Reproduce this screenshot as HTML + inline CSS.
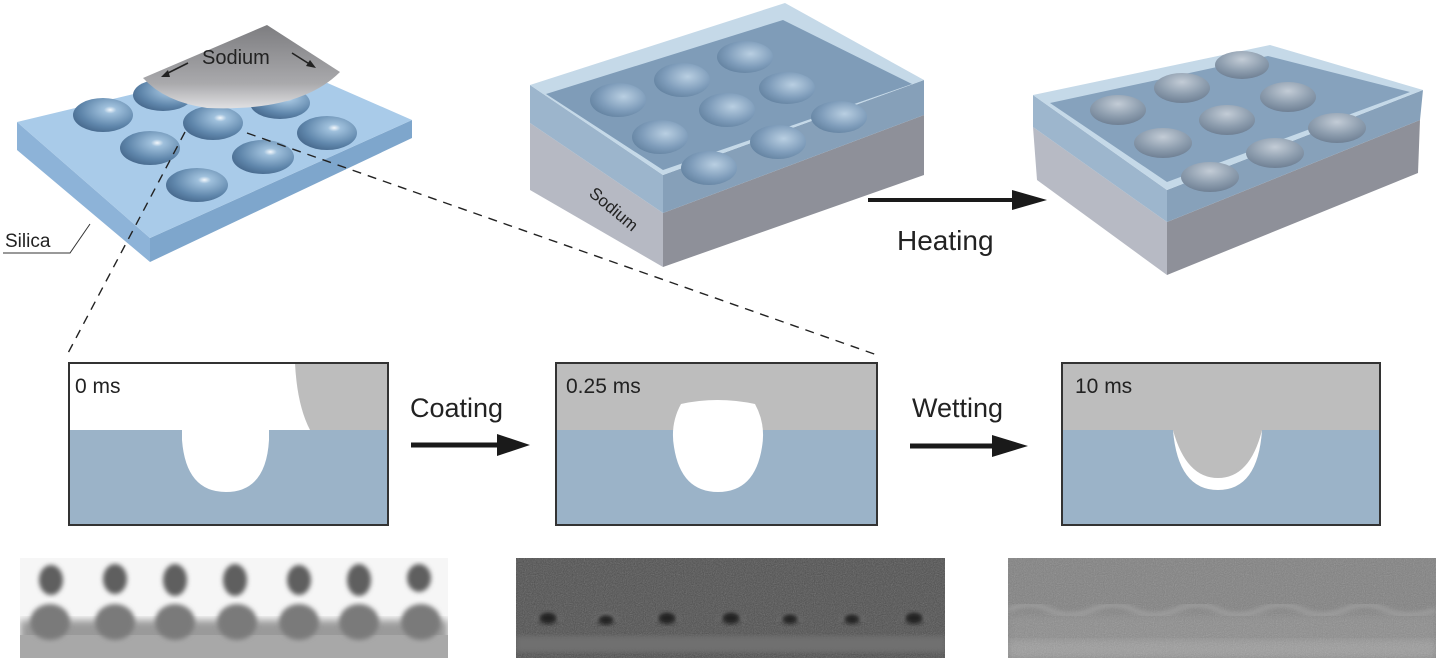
<!DOCTYPE html>
<html><head><meta charset="utf-8"><style>
html,body{margin:0;padding:0;background:#fff;}
svg{display:block;}
text{font-family:"Liberation Sans",sans-serif;fill:#222;}
</style></head><body>
<svg width="1444" height="664" viewBox="0 0 1444 664" xmlns="http://www.w3.org/2000/svg">
<defs>
<radialGradient id="well" cx="0.62" cy="0.35" r="0.7">
<stop offset="0" stop-color="#f4f8fc"/><stop offset="0.15" stop-color="#9fc0dc"/><stop offset="0.7" stop-color="#5f86ab"/><stop offset="1" stop-color="#47698d"/></radialGradient>
<radialGradient id="well2" cx="0.6" cy="0.4" r="0.7">
<stop offset="0" stop-color="#b9cfe2"/><stop offset="0.6" stop-color="#7e9cba"/><stop offset="1" stop-color="#5f7e9c"/></radialGradient>
<radialGradient id="well3" cx="0.5" cy="0.3" r="0.7">
<stop offset="0" stop-color="#c3ccd6"/><stop offset="0.6" stop-color="#8d9dae"/><stop offset="1" stop-color="#6f8094"/></radialGradient>
<linearGradient id="na" x1="0" y1="0" x2="0" y2="1">
<stop offset="0" stop-color="#7d7d80"/><stop offset="0.7" stop-color="#a9a9ac"/><stop offset="1" stop-color="#e0e0e2"/></linearGradient>
<filter id="noise"><feTurbulence type="fractalNoise" baseFrequency="0.9" numOctaves="2" seed="3"/><feColorMatrix type="saturate" values="0"/><feComponentTransfer><feFuncA type="linear" slope="0.35"/></feComponentTransfer><feComposite in2="SourceGraphic" operator="in"/></filter>
<filter id="blur2"><feGaussianBlur stdDeviation="2.5"/></filter>
<filter id="blur4"><feGaussianBlur stdDeviation="4"/></filter>
<clipPath id="c1"><rect x="20" y="558" width="428" height="100"/></clipPath>
<clipPath id="c2"><rect x="516" y="558" width="429" height="100"/></clipPath>
<clipPath id="c3"><rect x="1008" y="558" width="428" height="100"/></clipPath>
</defs>

<!-- Box 1 silica slab -->
<polygon points="17,122 150,238 150,262 17,150" fill="#8db3d8"/>
<polygon points="150,238 412,120 412,138 150,262" fill="#7ea6cc"/>
<polygon points="17,122 275,60 412,120 150,238" fill="#a9cbe9"/>
<g>
<ellipse cx="103" cy="115" rx="30" ry="17" fill="url(#well)"/>
<ellipse cx="163" cy="95" rx="30" ry="16" fill="url(#well)"/>
<ellipse cx="150" cy="148" rx="30" ry="17" fill="url(#well)"/>
<ellipse cx="213" cy="123" rx="30" ry="17" fill="url(#well)"/>
<ellipse cx="280" cy="103" rx="30" ry="16" fill="url(#well)"/>
<ellipse cx="197" cy="185" rx="31" ry="17" fill="url(#well)"/>
<ellipse cx="263" cy="157" rx="31" ry="17" fill="url(#well)"/>
<ellipse cx="327" cy="133" rx="30" ry="17" fill="url(#well)"/>
</g>
<path d="M143,78 L267,25 L340,72 Q300,112 207,108 Q165,102 143,78 Z" fill="url(#na)"/>
<text x="202" y="64" font-size="20">Sodium</text>
<line x1="188" y1="63" x2="166" y2="74" stroke="#222" stroke-width="1.6"/>
<polygon points="161,77 168,70 170,77" fill="#222"/>
<line x1="292" y1="53" x2="311" y2="65" stroke="#222" stroke-width="1.6"/>
<polygon points="316,68 306,66 310,60" fill="#222"/>
<text x="5" y="247" font-size="19">Silica</text>
<polyline points="3,253 70,253 90,224" fill="none" stroke="#333" stroke-width="1"/>

<!-- dashed lines -->
<line x1="185" y1="132" x2="67" y2="355" stroke="#222" stroke-width="1.4" stroke-dasharray="9,7"/>
<line x1="247" y1="133" x2="877" y2="355" stroke="#222" stroke-width="1.4" stroke-dasharray="9,7"/>

<!-- Box 2 -->
<polygon points="530,123 663,213 663,267 530,190" fill="#b6b9c3"/>
<polygon points="663,213 924,115 924,175 663,267" fill="#8e9099"/>
<polygon points="530,85 663,175 663,213 530,123" fill="#9cb5cc"/>
<polygon points="663,175 924,80 924,115 663,213" fill="#86a0b9"/>
<polygon points="530,85 785,3 924,80 663,175" fill="#c5d9e8"/>
<polygon points="546,94 783,20 912,84 663,170" fill="#7f9cb8"/>
<g>
<ellipse cx="618" cy="100" rx="28" ry="17" fill="url(#well2)"/>
<ellipse cx="682" cy="80" rx="28" ry="17" fill="url(#well2)"/>
<ellipse cx="745" cy="57" rx="28" ry="16" fill="url(#well2)"/>
<ellipse cx="660" cy="137" rx="28" ry="17" fill="url(#well2)"/>
<ellipse cx="727" cy="110" rx="28" ry="17" fill="url(#well2)"/>
<ellipse cx="787" cy="88" rx="28" ry="16" fill="url(#well2)"/>
<ellipse cx="709" cy="168" rx="28" ry="17" fill="url(#well2)"/>
<ellipse cx="778" cy="142" rx="28" ry="17" fill="url(#well2)"/>
<ellipse cx="839" cy="117" rx="28" ry="16" fill="url(#well2)"/>
</g>
<text x="0" y="0" font-size="17" transform="translate(588,195) rotate(40)">Sodium</text>

<!-- Heating arrow -->
<line x1="868" y1="200" x2="1015" y2="200" stroke="#1a1a1a" stroke-width="4"/>
<polygon points="1012,190 1047,200 1012,210" fill="#1a1a1a"/>
<text x="897" y="250" font-size="28">Heating</text>

<!-- Box 3 -->
<polygon points="1033,127 1167,222 1167,275 1037,180" fill="#b7bac4"/>
<polygon points="1167,222 1420,120 1418,173 1167,275" fill="#8e9099"/>
<polygon points="1033,95 1167,190 1167,222 1033,127" fill="#9db6cd"/>
<polygon points="1167,190 1423,90 1420,120 1167,222" fill="#87a1ba"/>
<polygon points="1033,95 1270,45 1423,90 1167,190" fill="#c5d9e8"/>
<polygon points="1050,103 1268,56 1410,92 1167,182" fill="#86a2bd"/>
<g>
<ellipse cx="1118" cy="110" rx="28" ry="15" fill="url(#well3)"/>
<ellipse cx="1182" cy="88" rx="28" ry="15" fill="url(#well3)"/>
<ellipse cx="1242" cy="65" rx="27" ry="14" fill="url(#well3)"/>
<ellipse cx="1163" cy="143" rx="29" ry="15" fill="url(#well3)"/>
<ellipse cx="1227" cy="120" rx="28" ry="15" fill="url(#well3)"/>
<ellipse cx="1288" cy="97" rx="28" ry="15" fill="url(#well3)"/>
<ellipse cx="1210" cy="177" rx="29" ry="15" fill="url(#well3)"/>
<ellipse cx="1275" cy="153" rx="29" ry="15" fill="url(#well3)"/>
<ellipse cx="1337" cy="128" rx="29" ry="15" fill="url(#well3)"/>
</g>

<!-- Panel 1 -->
<rect x="69" y="363" width="319" height="162" fill="#fff"/>
<path d="M295,363 Q297,405 310,430 L388,430 L388,363 Z" fill="#bdbdbd"/>
<path d="M69,430 L182,430 L182,440 Q186,492 226,492 Q266,492 269,440 L269,430 L388,430 L388,525 L69,525 Z" fill="#9bb3c8"/>
<rect x="69" y="363" width="319" height="162" fill="none" stroke="#333" stroke-width="2"/>
<text x="75" y="393" font-size="21">0 ms</text>
<text x="410" y="417" font-size="27">Coating</text>
<line x1="411" y1="445" x2="500" y2="445" stroke="#1a1a1a" stroke-width="5"/>
<polygon points="497,434 530,445 497,456" fill="#1a1a1a"/>

<!-- Panel 2 -->
<rect x="556" y="363" width="321" height="162" fill="#bdbdbd"/>
<rect x="556" y="430" width="321" height="95" fill="#9bb3c8"/>
<path d="M681,404 Q717,396 755,404 Q766,424 762,447 Q755,492 718,492 Q681,492 674,447 Q670,424 681,404 Z" fill="#fff"/>
<rect x="556" y="363" width="321" height="162" fill="none" stroke="#333" stroke-width="2"/>
<text x="566" y="393" font-size="21">0.25 ms</text>
<text x="912" y="417" font-size="27">Wetting</text>
<line x1="910" y1="446" x2="995" y2="446" stroke="#1a1a1a" stroke-width="5"/>
<polygon points="992,435 1028,446 992,457" fill="#1a1a1a"/>

<!-- Panel 3 -->
<rect x="1062" y="363" width="318" height="162" fill="#bdbdbd"/>
<path d="M1062,430 L1173,430 Q1178,490 1218,490 Q1258,490 1262,430 L1380,430 L1380,525 L1062,525 Z" fill="#9bb3c8"/>
<path d="M1173,430 Q1186,478 1218,478 Q1250,478 1262,430 Q1258,490 1218,490 Q1178,490 1173,430 Z" fill="#fff"/>
<path d="M1173,430 Q1186,474 1218,475 Q1250,474 1262,430 Z" fill="#bdbdbd"/>
<rect x="1062" y="363" width="318" height="162" fill="none" stroke="#333" stroke-width="2"/>
<text x="1075" y="393" font-size="21">10 ms</text>

<!-- SEM 1 -->
<g clip-path="url(#c1)">
<rect x="20" y="558" width="428" height="100" fill="#f6f6f6"/>
<rect x="20" y="620" width="428" height="38" fill="#9a9a9a" filter="url(#blur4)"/>
<rect x="20" y="635" width="428" height="23" fill="#a8a8a8"/>
<g fill="#5e5e5e" filter="url(#blur2)">
<ellipse cx="51" cy="580" rx="12" ry="15"/><ellipse cx="115" cy="579" rx="12" ry="15"/><ellipse cx="175" cy="580" rx="12" ry="16"/><ellipse cx="235" cy="580" rx="12" ry="16"/><ellipse cx="299" cy="580" rx="12" ry="15"/><ellipse cx="359" cy="580" rx="12" ry="16"/><ellipse cx="419" cy="578" rx="12" ry="14"/>
</g>
<g fill="#7a7a7a" filter="url(#blur2)">
<ellipse cx="50" cy="622" rx="20" ry="18"/><ellipse cx="115" cy="622" rx="20" ry="18"/><ellipse cx="175" cy="622" rx="20" ry="18"/><ellipse cx="237" cy="622" rx="20" ry="18"/><ellipse cx="299" cy="622" rx="20" ry="18"/><ellipse cx="359" cy="622" rx="20" ry="18"/><ellipse cx="421" cy="622" rx="20" ry="18"/>
</g>
</g>
<!-- SEM 2 -->
<g clip-path="url(#c2)">
<rect x="516" y="558" width="429" height="100" fill="#4e4e4e"/>
<rect x="516" y="558" width="429" height="100" fill="#999" filter="url(#noise)"/>
<rect x="516" y="636" width="429" height="16" fill="#707070" filter="url(#blur2)"/>
<g fill="none" stroke="#8a8a8a" stroke-width="3" filter="url(#blur2)">
<path d="M537,620 Q548,604 559,620"/><path d="M596,621 Q606,607 616,621"/><path d="M656,620 Q667,604 678,620"/><path d="M720,620 Q731,604 742,620"/><path d="M780,621 Q790,607 800,621"/><path d="M842,621 Q852,607 862,621"/><path d="M903,620 Q914,604 925,620"/>
</g>
<g fill="#222" filter="url(#blur2)">
<ellipse cx="548" cy="618" rx="9" ry="6"/><ellipse cx="606" cy="620" rx="8" ry="5"/><ellipse cx="667" cy="618" rx="9" ry="6"/><ellipse cx="731" cy="618" rx="9" ry="6"/><ellipse cx="790" cy="619" rx="8" ry="5"/><ellipse cx="852" cy="619" rx="8" ry="5"/><ellipse cx="914" cy="618" rx="9" ry="6"/>
</g>
</g>
<!-- SEM 3 -->
<g clip-path="url(#c3)">
<rect x="1008" y="558" width="428" height="100" fill="#808080"/>
<rect x="1008" y="615" width="428" height="43" fill="#8c8c8c" filter="url(#blur4)"/>
<rect x="1008" y="640" width="428" height="18" fill="#9c9c9c" filter="url(#blur4)"/>
<rect x="1008" y="558" width="428" height="100" fill="#aaa" filter="url(#noise)"/>
<path d="M1008,610 Q1030,600 1050,610 T1092,610 T1134,610 T1176,610 T1218,610 T1260,610 T1302,610 T1344,610 T1386,610 T1436,610" fill="none" stroke="#a0a0a0" stroke-width="4" filter="url(#blur2)"/>
</g>
</svg>
</body></html>
